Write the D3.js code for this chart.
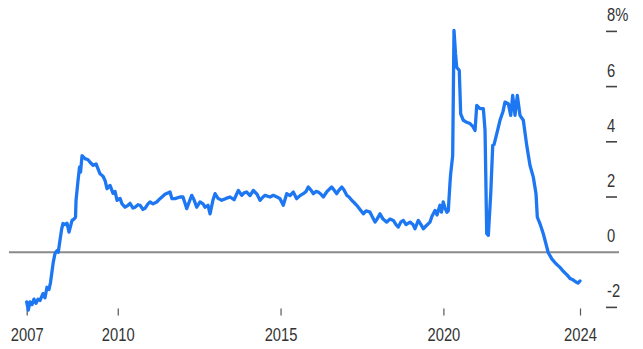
<!DOCTYPE html>
<html>
<head>
<meta charset="utf-8">
<script src="https://cdn.jsdelivr.net/npm/d3@7"></script>
<style>
  html, body { margin: 0; padding: 0; background: #ffffff; }
  svg { display: block; }
  text { font-family: "Liberation Sans", Arial, Helvetica, sans-serif; fill: #333333; }
</style>
</head>
<body>
<svg id="chart" width="643" height="349"></svg>
<script>
// Dates as decimal years
const dates = [
  2007.206, 2007.255, 2007.307, 2007.369, 2007.430, 2007.492, 2007.553, 2007.614, 2007.706, 2007.768,
  2007.829, 2007.891, 2007.937, 2007.983, 2008.023, 2008.075, 2008.136, 2008.176, 2008.228, 2008.281,
  2008.321, 2008.382, 2008.443, 2008.505, 2008.597, 2008.658, 2008.704, 2008.720, 2008.781, 2008.827,
  2008.858, 2008.904, 2008.996, 2009.088, 2009.149, 2009.242, 2009.334, 2009.456, 2009.549, 2009.610,
  2009.671, 2009.764, 2009.856, 2009.917, 2009.979, 2010.071, 2010.132, 2010.224, 2010.316, 2010.378,
  2010.470, 2010.531, 2010.623, 2010.685, 2010.777, 2010.838, 2010.930, 2010.992, 2011.084, 2011.197,
  2011.299, 2011.452, 2011.606, 2011.667, 2011.759, 2011.913, 2012.005, 2012.119, 2012.189, 2012.272,
  2012.343, 2012.426, 2012.527, 2012.619, 2012.680, 2012.772, 2012.834, 2012.926, 2012.987, 2013.079,
  2013.193, 2013.325, 2013.448, 2013.571, 2013.703, 2013.807, 2013.878, 2013.961, 2014.062, 2014.163,
  2014.277, 2014.369, 2014.461, 2014.523, 2014.676, 2014.777, 2014.891, 2014.983, 2015.084, 2015.189,
  2015.290, 2015.391, 2015.496, 2015.597, 2015.699, 2015.782, 2015.852, 2015.935, 2016.006, 2016.088,
  2016.159, 2016.242, 2016.312, 2016.426, 2016.570, 2016.641, 2016.724, 2016.795, 2016.877, 2016.948,
  2017.031, 2017.101, 2017.184, 2017.255, 2017.338, 2017.439, 2017.541, 2017.624, 2017.746, 2017.808,
  2017.900, 2017.961, 2018.053, 2018.145, 2018.259, 2018.360, 2018.462, 2018.545, 2018.615, 2018.698,
  2018.769, 2018.852, 2018.974, 2019.066, 2019.128, 2019.229, 2019.312, 2019.383, 2019.465, 2019.588,
  2019.649, 2019.742, 2019.803, 2019.895, 2019.941, 2019.996, 2020.048, 2020.110, 2020.150, 2020.202,
  2020.223, 2020.285, 2020.325, 2020.371, 2020.408, 2020.487, 2020.530, 2020.611, 2020.693, 2020.816,
  2020.908, 2020.970, 2021.022, 2021.123, 2021.225, 2021.277, 2021.329, 2021.378, 2021.452, 2021.513,
  2021.553, 2021.636, 2021.737, 2021.829, 2021.890, 2021.992, 2022.066, 2022.127, 2022.198, 2022.269,
  2022.351, 2022.453, 2022.558, 2022.659, 2022.760, 2022.843, 2022.883, 2022.966, 2023.067, 2023.220,
  2023.334, 2023.457, 2023.580, 2023.672, 2023.795, 2023.887, 2023.979, 2024.071, 2024.133, 2024.194
];
// Values in percent
const values = [
  -1.80, -2.10, -1.80, -1.90, -1.70, -1.85, -1.70, -1.75, -1.50, -1.65,
  -1.27, -1.35, -1.10, -0.70, -0.36, -0.05, 0.05, 0.00, 0.43, 0.85,
  1.04, 1.00, 1.05, 0.73, 1.15, 1.20, 1.27, 1.88, 2.60, 3.08,
  2.90, 3.50, 3.39, 3.35, 3.26, 3.15, 3.20, 2.84, 2.75, 2.60,
  2.30, 2.42, 2.13, 2.20, 1.88, 1.95, 1.75, 1.63, 1.70, 1.77,
  1.60, 1.63, 1.72, 1.70, 1.55, 1.59, 1.75, 1.82, 1.75, 1.82,
  1.94, 2.10, 2.18, 1.94, 1.94, 2.00, 2.00, 1.58, 1.80, 2.06,
  1.90, 1.63, 1.82, 1.75, 1.63, 1.70, 1.39, 1.90, 2.12, 1.95,
  1.88, 1.95, 2.00, 1.90, 2.24, 2.06, 2.15, 2.18, 2.05, 2.24,
  2.10, 1.88, 2.00, 2.06, 2.00, 2.06, 2.00, 1.94, 1.70, 2.12,
  2.05, 2.18, 1.94, 2.05, 2.12, 2.20, 2.36, 2.25, 2.12, 2.20,
  2.18, 2.10, 2.00, 2.20, 2.36, 2.25, 2.12, 2.25, 2.36, 2.25,
  2.06, 2.00, 1.88, 1.80, 1.70, 1.55, 1.39, 1.50, 1.45, 1.30,
  1.09, 1.20, 1.39, 1.20, 1.09, 1.20, 1.15, 1.00, 0.91, 1.10,
  1.15, 1.00, 1.09, 1.00, 0.85, 1.15, 1.00, 0.85, 0.95, 1.09,
  1.30, 1.51, 1.35, 1.70, 1.45, 1.82, 1.60, 1.45, 1.50, 2.50,
  2.84, 3.50, 8.04, 7.20, 6.70, 6.58, 5.01, 4.78, 4.72, 4.66,
  4.55, 4.41, 5.32, 5.20, 5.20, 4.41, 0.67, 0.61, 2.12, 3.87,
  3.90, 4.29, 4.78, 5.10, 5.44, 5.38, 4.96, 5.68, 4.96, 5.68,
  4.96, 4.78, 3.87, 3.14, 2.72, 2.12, 1.27, 1.03, 0.67, -0.02,
  -0.25, -0.42, -0.55, -0.68, -0.82, -0.95, -1.00, -1.08, -1.12, -1.04
];
const xTickDates = [2007.206, 2010, 2015, 2020, 2024.194];
const xTickLabels = ["2007", "2010", "2015", "2020", "2024"];
const yTickValues = [8, 6, 4, 2, 0, -2];
const yTickLabels = ["8%", "6", "4", "2", "0", "-2"];

function toDate(t) {
  const y = Math.floor(t);
  const start = Date.UTC(y, 0, 1), end = Date.UTC(y + 1, 0, 1);
  return new Date(start + (t - y) * (end - start));
}

const data = dates.map((d, i) => ({ date: toDate(d), value: values[i] }));

const svg = d3.select("#chart");

const x = d3.scaleUtc()
  .domain([toDate(dates[0]), toDate(dates[dates.length - 1])])
  .range([26.7, 580]);
const y = d3.scaleLinear().domain([-2, 8]).range([307.4, 31.4]);

// Zero line
svg.append("line")
  .attr("x1", 9).attr("x2", 619)
  .attr("y1", y(0)).attr("y2", y(0))
  .attr("stroke", "#8a8a8a").attr("stroke-width", 2);

// Y ticks (dashes) and labels on the right
const yg = svg.append("g");
yTickValues.forEach((v, i) => {
  if (v !== 0) {
    yg.append("line")
      .attr("x1", 606).attr("x2", 617)
      .attr("y1", y(v)).attr("y2", y(v))
      .attr("stroke", "#444").attr("stroke-width", 1.6);
  }
  yg.append("text")
    .attr("transform", `translate(607,${y(v) - 10}) scale(0.82,1)`)
    .attr("font-size", 18)
    .attr("text-anchor", "start")
    .text(yTickLabels[i]);
});

// X axis
const xAxis = d3.axisBottom(x)
  .tickValues(xTickDates.map(toDate))
  .tickFormat((d, i) => xTickLabels[i])
  .tickSize(7)
  .tickPadding(15);

const xg = svg.append("g")
  .attr("transform", "translate(0,308.5)")
  .call(xAxis);
xg.select(".domain").remove();
xg.selectAll(".tick line").attr("stroke", "#555").attr("stroke-width", 1.2);
xg.selectAll(".tick text")
  .attr("font-size", 18)
  .attr("font-family", "'Liberation Sans', Arial, sans-serif")
  .attr("fill", "#333")
  .attr("dy", "0.6em")
  .attr("transform", "scale(0.82,1)");

// Line
const line = d3.line()
  .x(d => x(d.date))
  .y(d => y(d.value))
  .curve(d3.curveLinear);

svg.append("path")
  .datum(data)
  .attr("fill", "none")
  .attr("stroke", "#1e77f2")
  .attr("stroke-width", 3.3)
  .attr("stroke-linejoin", "round")
  .attr("stroke-linecap", "round")
  .attr("d", line);
</script>
</body>
</html>
